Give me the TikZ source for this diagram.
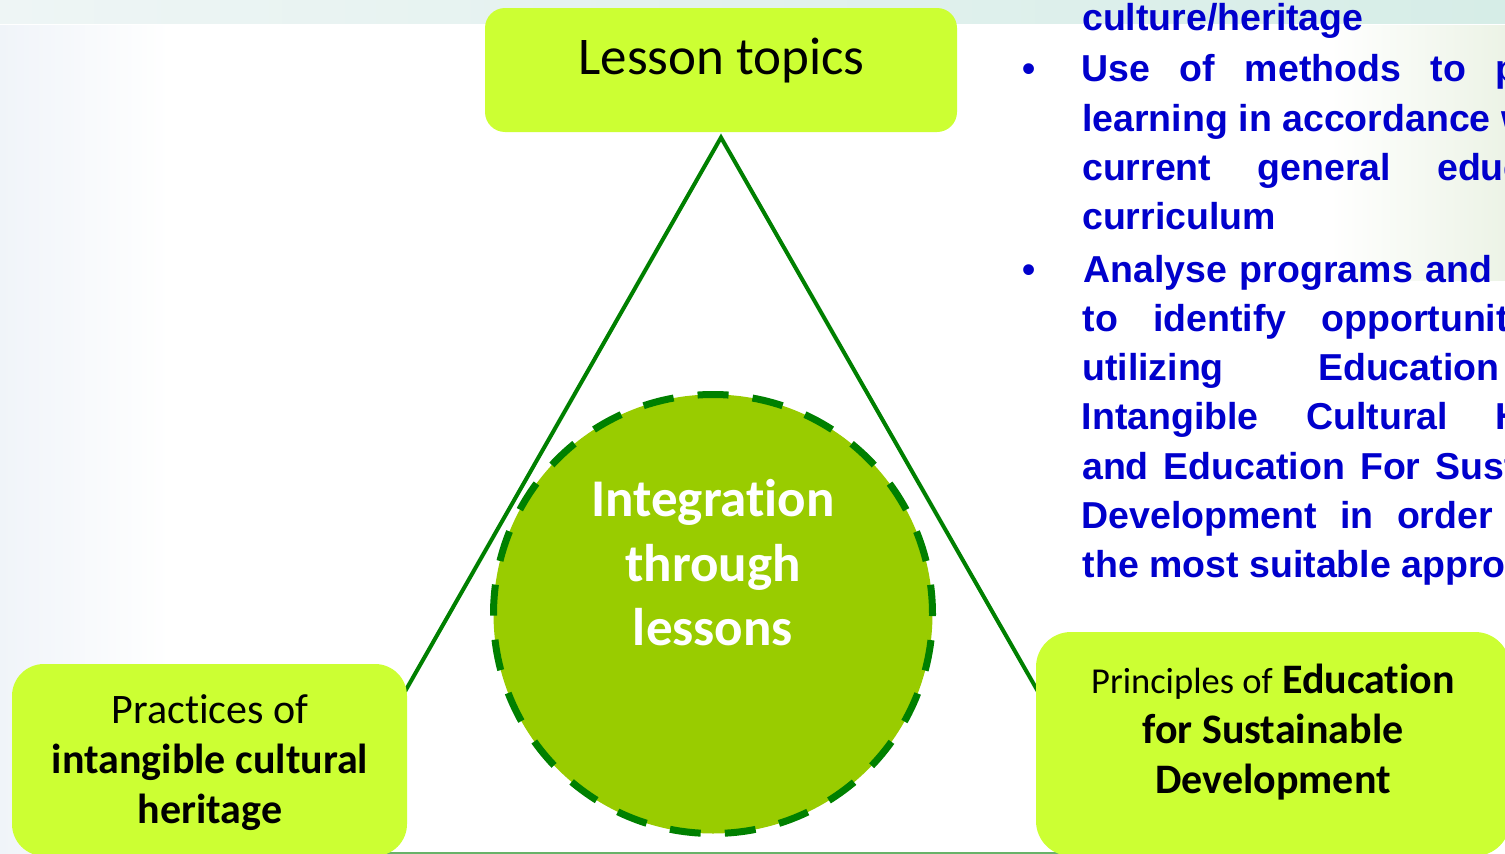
\documentclass[tikz,border=0pt]{standalone}
\usepackage{fontspec}
\newfontfamily\calfont{Carlito}[Ligatures=NoCommon]
\newfontfamily\arfont{Liberation Sans}
\definecolor{boxlime}{RGB}{204,255,51}
\definecolor{circfill}{RGB}{153,204,0}
\definecolor{darkgreen}{RGB}{0,128,0}
\definecolor{textblue}{RGB}{0,0,204}
\definecolor{bgA}{RGB}{238,245,245}
\definecolor{bgB}{RGB}{214,237,231}
\definecolor{bgL}{RGB}{240,244,249}
\definecolor{bgR}{RGB}{236,243,230}
\definecolor{bottomgreen}{RGB}{104,178,104}
\begin{document}
\begin{tikzpicture}[x=1pt,y=-1pt,
  limebox/.style={rectangle, fill=boxlime, draw=none, rounded corners=#1, inner sep=0pt},
  integcirc/.style={circle, minimum size=439pt, inner sep=0pt, fill=circfill, draw=darkgreen,
    line width=7pt, dash pattern=on 31pt off 24.16pt, dash phase=1.7pt},
  legline/.style={draw=darkgreen, line width=4pt, line join=miter},
  toptext/.style={anchor=base, inner sep=0pt, font=\calfont\fontsize{53}{64}\selectfont},
  circtext/.style={anchor=base, inner sep=0pt, text=white, font=\calfont\bfseries\fontsize{53}{64}\selectfont},
  boxtext/.style={anchor=base, inner sep=0pt, font=\calfont\fontsize{42}{50}\selectfont},
  bluetxt/.style={anchor=base west, inner sep=0pt, text=textblue, font=\arfont\bfseries\fontsize{37.5}{49.3}\selectfont}
]
\useasboundingbox (0,0) rectangle (1505,854);
\fill[white] (0,0) rectangle (1505,854);
% faint slide background
\shade[left color=bgA, right color=bgB] (0,0) rectangle (1505,23);
\shade[left color=bgL, right color=white] (0,25.5) rectangle (170,854);
\shade[left color=white, right color=bgR] (1330,25.5) rectangle (1505,280);
\draw[draw=bottomgreen, line width=1.5pt] (380,853) -- (1060,853);

% triangle
\coordinate (apex) at (721,137.5);
\coordinate (lfoot) at (397,705.5);
\coordinate (rfoot) at (1046,705.5);
\draw[legline] (lfoot) -- (apex) -- (rfoot);

% centre circle
\node[integcirc] (integ) at (713,614) {};
\node[circtext] (it1) at (713,516.7) {Integration};
\node[circtext] (it2) at (713,581.7) {through};
\node[circtext] (it3) at (713,645) {lessons};

% boxes
\node[limebox=20pt, minimum width=472pt, minimum height=124pt] (topbox) at (721,70) {};
\node[limebox=32pt, minimum width=395pt, minimum height=192pt] (leftbox) at (209.5,760) {};
\node[limebox=35pt, minimum width=474pt, minimum height=224pt] (rightbox) at (1273,744) {};

\node[toptext] (tt) at (721.5,74) {Lesson topics};

\node[boxtext] (l1) at (210,723) {Practices of};
\node[boxtext] (l2) at (210,773) {\bfseries intangible cultural};
\node[boxtext] (l3) at (210,823) {\bfseries heritage};

\node[boxtext] (r1) at (1273,693) {{\fontsize{36.5}{50}\selectfont Principles of} \textbf{Education}};
\node[boxtext] (r2) at (1273,743) {\bfseries for Sustainable};
\node[boxtext] (r3) at (1273,793) {\bfseries Development};

% blue text (clipped at right edge, as in the reference)
\node[bluetxt] (b0) at (1082,30) {culture/heritage};
\node[bluetxt] (bul1) at (1022.6,81.7) {•};
\node[bluetxt] (b1) at (1081.5,81.7) {Use\hspace{29.5pt}of\hspace{29.5pt}methods\hspace{29.5pt}to\hspace{29.5pt}p};
\node[bluetxt] (b2) at (1082,131) {learning\hspace{10.5pt}in\hspace{10.5pt}accordance\hspace{10.5pt}w};
\node[bluetxt] (b3) at (1082,180.3) {current\hspace{46.2pt}general\hspace{46.2pt}educ};
\node[bluetxt] (b4) at (1082,229.6) {curriculum};
\node[bluetxt] (bul2) at (1022.6,282) {•};
\node[bluetxt] (b5) at (1083,282) {Analyse\hspace{13pt}programs\hspace{13pt}and};
\node[bluetxt] (b6) at (1082.5,331.3) {to\hspace{35pt}identify\hspace{35pt}opportunit};
\node[bluetxt] (b7) at (1082,380.6) {utilizing\hspace{94.3pt}Education};
\node[bluetxt] (b8) at (1081.5,429.9) {Intangible\hspace{47.5pt}Cultural\hspace{47.5pt}H};
\node[bluetxt] (b9) at (1082,479.2) {and\hspace{15pt}Education\hspace{15pt}For\hspace{15pt}Sust};
\node[bluetxt] (b10) at (1081.5,528.5) {Development\hspace{23.3pt}in\hspace{23.3pt}order};
\node[bluetxt] (b11) at (1082.5,577.8) {the most suitable approa};
\end{tikzpicture}
\end{document}
